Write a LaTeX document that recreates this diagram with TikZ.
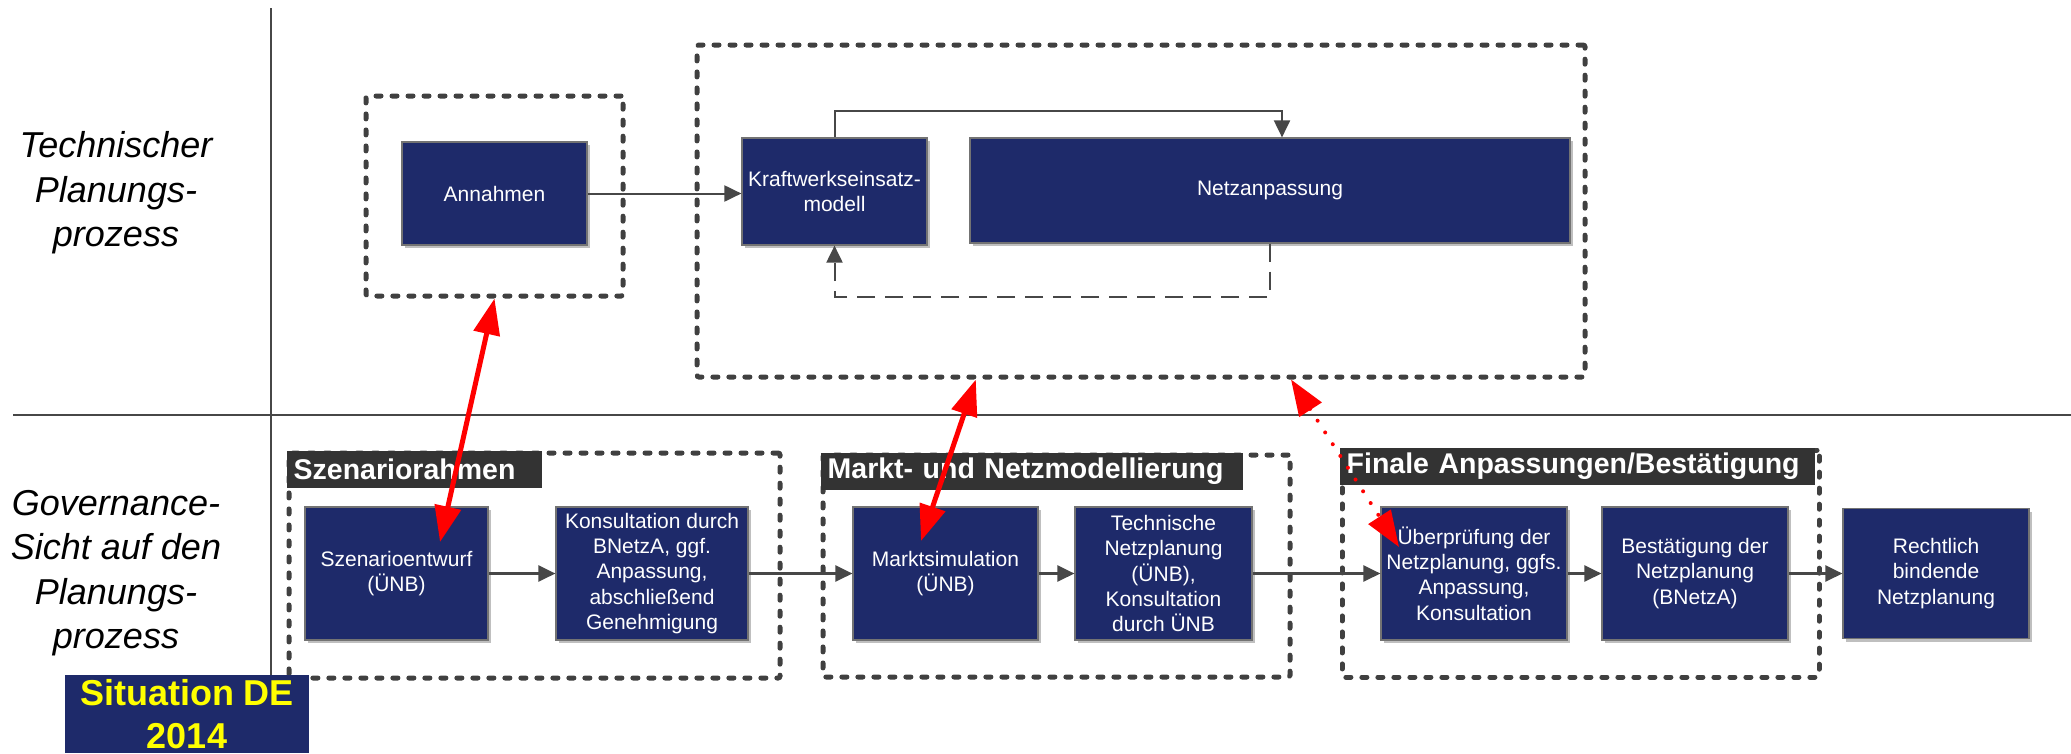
\documentclass[tikz,border=0pt]{standalone}
\usepackage{fontspec}
\setmainfont{Liberation Sans}
\usetikzlibrary{arrows.meta,calc,shadows}
\definecolor{navy}{HTML}{1E2A6A}
\definecolor{frm}{HTML}{404040}
\definecolor{tabc}{HTML}{333333}
\definecolor{ln}{HTML}{474747}
\definecolor{yel}{HTML}{FFFF00}
\begin{document}
\begin{tikzpicture}[x=1pt,y=-1pt,
  procbox/.style={draw=black!55, line width=1.2pt, fill=navy, text=white, align=center, inner sep=0pt,
    font=\fontsize{21}{25.3}\selectfont,
    drop shadow={shadow xshift=3pt, shadow yshift=-3pt, opacity=0.25, fill=black}},
  grpframe/.style={draw=frm, line width=5pt, line cap=round, dash pattern=on 5pt off 11pt, inner sep=0pt, rounded corners=2pt},
  tabbox/.style={fill=tabc, text=white, font=\fontsize{28.5}{32}\selectfont\bfseries, anchor=north west,
    inner xsep=7pt, inner ysep=0pt, minimum height=37pt, align=left},
  lbl/.style={font=\fontsize{36}{44.5}\selectfont\itshape, align=center},
  conn/.style={draw=ln, line width=2.5pt, -{Triangle[length=17pt,width=16pt]}},
  redarr/.style={draw=red, line width=5pt, {Triangle[length=36pt,width=26pt]}-{Triangle[length=36pt,width=26pt]}},
]
\useasboundingbox (0,0) rectangle (2071,753);
\fill[white] (0,0) rectangle (2071,753);

% axes
\coordinate (vt) at (271,8);
\coordinate (vb) at (271,753);
\coordinate (hl) at (13,415);
\coordinate (hr) at (2071,415);
\draw[draw=ln, line width=2pt] (vt) -- (vb);
\draw[draw=ln, line width=2pt] (hl) -- (hr);

% row labels
\node[lbl] (lt) at (116,193) {Technischer\\Planungs-\\prozess};
\node[lbl] (lg) at (116,573) {Governance-\\Sicht auf den\\Planungs-\\prozess};

% top frames
\node[grpframe, minimum width=257pt, minimum height=200pt] (frameA) at (494.5,196) {};
\node[grpframe, minimum width=888pt, minimum height=332pt] (frameB) at (1141,211) {};

% top boxes
\node[procbox, minimum width=185pt, minimum height=103pt] (annahmen) at (494.5,193.5) {Annahmen};
\node[procbox, minimum width=185pt, minimum height=107pt] (kraft) at (834.5,191.5) {Kraftwerkseinsatz-\\modell};
\node[procbox, minimum width=600pt, minimum height=105pt] (netz) at (1270,190.5) {Netzanpassung};

% top connectors
\draw[conn, line width=2pt] (annahmen.east) -- (annahmen.east -| kraft.west);
\coordinate (t1) at (1282,111);
\draw[conn, line width=2pt] (kraft.north) |- (t1) -- (t1 |- netz.north);
\draw[conn, line width=2pt, dash pattern=on 18pt off 10pt] (netz.south) -- ++(0,53) -| (kraft.south);

% lower frames
\node[grpframe, minimum width=491pt, minimum height=225pt] (g1) at (534.5,565.5) {};
\node[grpframe, minimum width=467pt, minimum height=222pt] (g2) at (1056.5,566) {};
\node[grpframe, minimum width=477pt, minimum height=227pt] (g3) at (1580.5,563.5) {};
\node[tabbox, text width=241pt] (tb1) at (g1.north west) {Szenariorahmen};
\node[tabbox, text width=408pt] (tb2) at (g2.north west) {Markt- und Netzmodellierung};
\node[tabbox, text width=461pt] (tb3) at (g3.north west) {Finale Anpassungen/Bestätigung};

% lower boxes
\node[procbox, minimum width=183pt, minimum height=133pt] (s1) at (396.5,573.5) {Szenarioentwurf\\(ÜNB)};
\node[procbox, minimum width=192pt, minimum height=133pt] (s2) at (652,573.5) {Konsultation durch\\BNetzA, ggf.\\Anpassung,\\abschließend\\Genehmigung};
\node[procbox, minimum width=185pt, minimum height=133pt] (m1) at (945.5,573.5) {Marktsimulation\\(ÜNB)};
\node[procbox, minimum width=177pt, minimum height=133pt] (m2) at (1163.5,573.5) {Technische\\Netzplanung\\(ÜNB),\\Konsultation\\durch ÜNB};
\node[procbox, minimum width=186pt, minimum height=133pt] (f1) at (1474,573.5) {Überprüfung der\\Netzplanung, ggfs.\\Anpassung,\\Konsultation};
\node[procbox, minimum width=186pt, minimum height=133pt] (f2) at (1695,573.5) {Bestätigung der\\Netzplanung\\(BNetzA)};
\node[procbox, minimum width=186pt, minimum height=130pt] (rb) at (1936,573.5) {Rechtlich\\bindende\\Netzplanung};

% lower connectors
\draw[conn] (s1.east) -- (s2.west);
\draw[conn] (s2.east) -- (m1.west);
\draw[conn] (m1.east) -- (m2.west);
\draw[conn] (m2.east) -- (f1.west);
\draw[conn] (f1.east) -- (f2.west);
\draw[conn] (f2.east) -- (f2.east -| rb.west);

% situation box
\node[fill=navy, minimum width=244pt, minimum height=78pt, inner sep=0pt, text=yel,
  font=\fontsize{36}{43}\selectfont\bfseries, align=center] (sit) at (187,714) {Situation DE\\2014};

% red arrows
\coordinate (r1b) at (440,542);
\draw[redarr] (frameA.south) -- (r1b);
\coordinate (r2a) at ($(frameB.south west)!0.315!(frameB.south east)$);
\coordinate (r2b) at (921,541);
\draw[redarr] (r2a) -- (r2b);
\coordinate (r3a) at ($(frameB.south west)!0.668!(frameB.south east)$);
\coordinate (r3b) at (1399,547);
\draw[redarr, line width=4pt, dash pattern=on 0pt off 14pt, line cap=round] (r3a) -- (r3b);
\end{tikzpicture}
\end{document}
